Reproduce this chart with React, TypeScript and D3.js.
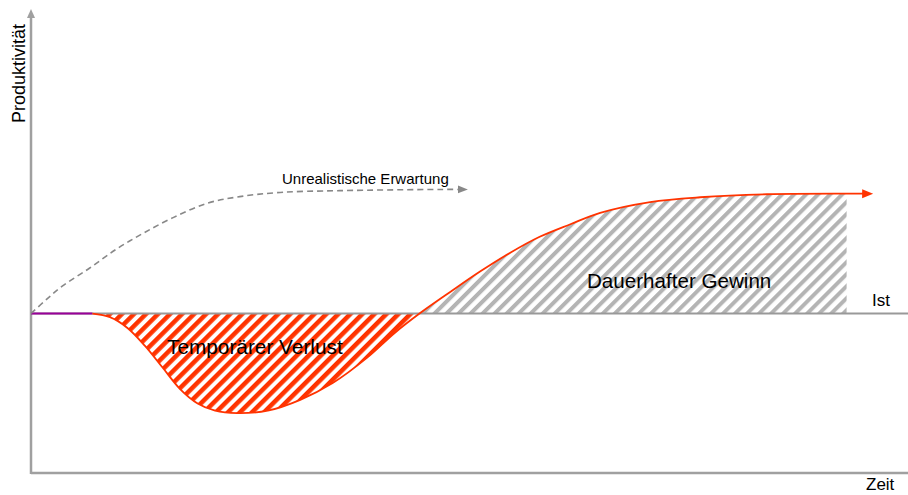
import React from 'react';
import * as d3 from 'd3';

// Produktivitätsverlauf (Zeit in %, Produktivität relativ zum Ist-Niveau)
const actualTime = [7, 9, 11, 13, 15, 17, 19, 21, 23.5, 27, 30.7, 34.4, 38.3, 41.5, 44.3, 47.8, 51.2, 54.6, 58, 61.5, 64.9, 70.6, 76.3, 83.9, 93, 95];
const actualValue = [0, -3, -12, -27, -45, -63, -75, -81, -83, -81, -72, -58, -37, -16, 0, 18, 35, 50.5, 64, 74.5, 84, 93, 97, 99.5, 100, 100];

const expectTime = [0, 1.8, 3.6, 6.7, 9.8, 12.8, 16.2, 20.1, 23.8, 28.4, 35.2, 46.6, 48.9];
const expectValue = [0, 12, 23, 38, 54, 67, 80, 92, 97.5, 101, 102.5, 103.5, 103.5];

const flatTime = [0, 7];
const flatValue = [0, 0];

const lossEnd = 44.3;
const gainEnd = 93;

const xDomain = [0, 100];
const yDomain = [-133, 254];

const font = 'Liberation Sans, Arial, sans-serif';

const App = () => {
    const width = 908;
    const height = 495;

    const x = d3.scaleLinear().domain(xDomain).range([31, 908]);
    const y = d3.scaleLinear().domain(yDomain).range([473, 9]);

    const actual = actualTime.map((t, i) => ({ t, v: actualValue[i] }));
    const expect = expectTime.map((t, i) => ({ t, v: expectValue[i] }));
    const flat = flatTime.map((t, i) => ({ t, v: flatValue[i] }));

    const curve = d3.curveCatmullRom.alpha(0.5);

    const line = d3.line<{ t: number, v: number }>()
        .x(d => x(d.t))
        .y(d => y(d.v))
        .curve(curve);

    const area = d3.area<{ t: number, v: number }>()
        .x(d => x(d.t))
        .y0(y(0))
        .y1(d => y(d.v))
        .curve(curve);

    const loss = actual.filter(d => d.t <= lossEnd);
    const gain = actual.filter(d => d.t >= lossEnd && d.t <= gainEnd);

    return (
        <svg width={width} height={height} style={{ position: 'absolute', left: 0, top: 0 }}>
            <defs>
                <pattern id="redHatch" width="8.5" height="8.5" patternUnits="userSpaceOnUse" patternTransform="rotate(45)">
                    <rect width="4.5" height="8.5" fill="#ff3300" />
                </pattern>
                <pattern id="grayHatch" width="8.5" height="8.5" patternUnits="userSpaceOnUse" patternTransform="rotate(45)">
                    <rect width="4" height="8.5" fill="#b4b4b4" />
                </pattern>
                <marker id="redArrow" markerUnits="userSpaceOnUse" markerWidth="12" markerHeight="10" refX="2" refY="5" orient="auto">
                    <path d="M0,0.5 L11,5 L0,9.5 z" fill="#ff3300" />
                </marker>
                <marker id="grayArrow" markerUnits="userSpaceOnUse" markerWidth="12" markerHeight="10" refX="2" refY="5" orient="auto">
                    <path d="M0,1 L10,5 L0,9 z" fill="#888" />
                </marker>
            </defs>

            {/* axes */}
            <line x1={x(0)} x2={x(0)} y1={y(yDomain[0]) + 1} y2={y(yDomain[1]) + 8} stroke="#a0a0a0" strokeWidth={2.5} />
            <path d={`M${x(0) - 4},${y(yDomain[1]) + 9} L${x(0)},${y(yDomain[1])} L${x(0) + 4},${y(yDomain[1]) + 9} z`} fill="#a0a0a0" />
            <line x1={x(0)} x2={x(xDomain[1])} y1={y(yDomain[0])} y2={y(yDomain[0])} stroke="#a0a0a0" strokeWidth={2.5} />

            {/* fills */}
            <path d={area(loss) || ''} fill="url(#redHatch)" />
            <path d={area(gain) || ''} fill="url(#grayHatch)" />

            {/* Ist baseline */}
            <line x1={x(0)} x2={x(xDomain[1])} y1={y(0)} y2={y(0)} stroke="#999" strokeWidth={2} />
            <path d={line(flat) || ''} fill="none" stroke="#990099" strokeWidth={2} />

            {/* lines */}
            <path d={line(expect) || ''} fill="none" stroke="#888" strokeWidth={1.6} strokeDasharray="6 4" markerEnd="url(#grayArrow)" />
            <path d={line(actual) || ''} fill="none" stroke="#ff3300" strokeWidth={1.8} markerEnd="url(#redArrow)" />

            {/* labels */}
            <text transform="translate(25,123) rotate(-90)" fontFamily={font} fontSize={18} fill="#000">Produktivität</text>
            <text x={282} y={184} fontFamily={font} fontSize={15} fill="#000">Unrealistische Erwartung</text>
            <text x={167} y={354} fontFamily={font} fontSize={20.8} fill="#000">Temporärer Verlust</text>
            <text x={587} y={288} fontFamily={font} fontSize={20.6} fill="#000">Dauerhafter Gewinn</text>
            <text x={872} y={306} fontFamily={font} fontSize={17} fill="#000">Ist</text>
            <text x={866} y={490} fontFamily={font} fontSize={17} fill="#000">Zeit</text>
        </svg>
    );
};

export default App;
